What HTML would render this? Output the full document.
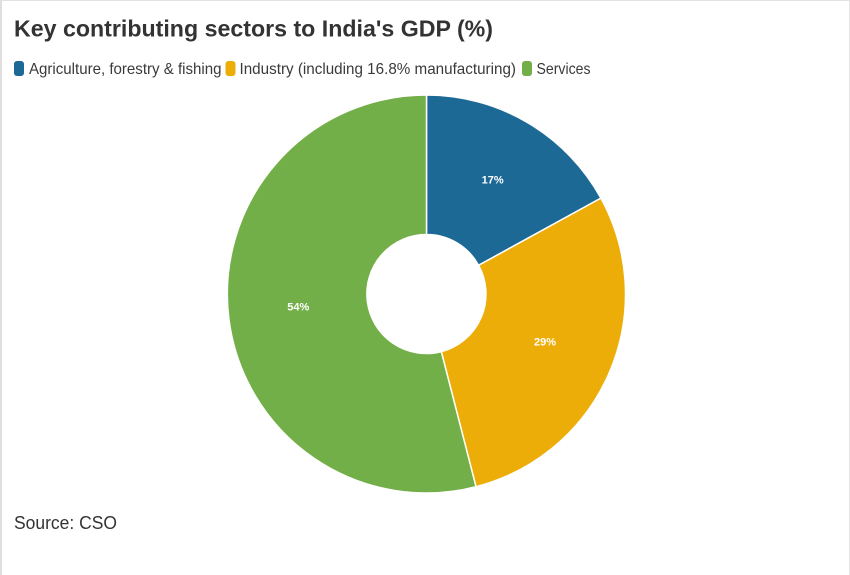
<!DOCTYPE html>
<html>
<head>
<meta charset="utf-8">
<style>
  html,body{margin:0;padding:0;background:#fff;}
  body{width:850px;height:575px;overflow:hidden;}
  svg{display:block;}
  text{font-family:"Liberation Sans",sans-serif;}
</style>
</head>
<body>
<svg width="850" height="575" viewBox="0 0 850 575" xmlns="http://www.w3.org/2000/svg">
  <rect x="0" y="0" width="850" height="575" fill="#fff"/>
  <!-- borders -->
  <rect x="0" y="0" width="2" height="575" fill="#dedede"/>
  <rect x="0" y="0" width="850" height="1" fill="#e2e2e2"/>
  <rect x="849" y="0" width="1" height="575" fill="#e6e6e6"/>

  <!-- title -->
  <text x="14" y="36.5" font-size="23" font-weight="bold" fill="#333" textLength="479" lengthAdjust="spacingAndGlyphs">Key contributing sectors to India's GDP (%)</text>

  <!-- legend -->
  <rect x="14" y="61" width="10" height="15" rx="3" fill="#1D6996"/>
  <text x="29" y="74" font-size="16" fill="#3a3a3a" textLength="192.5" lengthAdjust="spacingAndGlyphs">Agriculture, forestry &amp; fishing</text>
  <rect x="225.5" y="61" width="10" height="15" rx="3" fill="#EDAD08"/>
  <text x="239.5" y="74" font-size="16" fill="#3a3a3a" textLength="276.5" lengthAdjust="spacingAndGlyphs">Industry (including 16.8% manufacturing)</text>
  <rect x="522" y="61" width="10" height="15" rx="3" fill="#73AF48"/>
  <text x="536.5" y="74" font-size="16" fill="#3a3a3a" textLength="54" lengthAdjust="spacingAndGlyphs">Services</text>

  <!-- donut -->
  <g stroke="#fff" stroke-width="1.5" stroke-linejoin="round">
    <path d="M426.5,95 A199,199 0 0 1 600.9,198.1 L478.6,265.3 A59.5,59.5 0 0 0 426.5,234.5 Z" fill="#1D6996"/>
    <path d="M600.9,198.1 A199,199 0 0 1 476.0,486.7 L441.3,351.6 A59.5,59.5 0 0 0 478.6,265.3 Z" fill="#EDAD08"/>
    <path d="M476.0,486.7 A199,199 0 1 1 426.5,95 L426.5,234.5 A59.5,59.5 0 1 0 441.3,351.6 Z" fill="#73AF48"/>
  </g>

  <!-- data labels -->
  <g font-size="11" font-weight="bold" fill="#fff" text-anchor="middle">
    <text x="492.7" y="183.3">17%</text>
    <text x="545" y="345.7">29%</text>
    <text x="298.3" y="310.7">54%</text>
  </g>

  <!-- source -->
  <text x="14" y="529" font-size="18" fill="#333" textLength="103" lengthAdjust="spacingAndGlyphs">Source: CSO</text>
</svg>
</body>
</html>
